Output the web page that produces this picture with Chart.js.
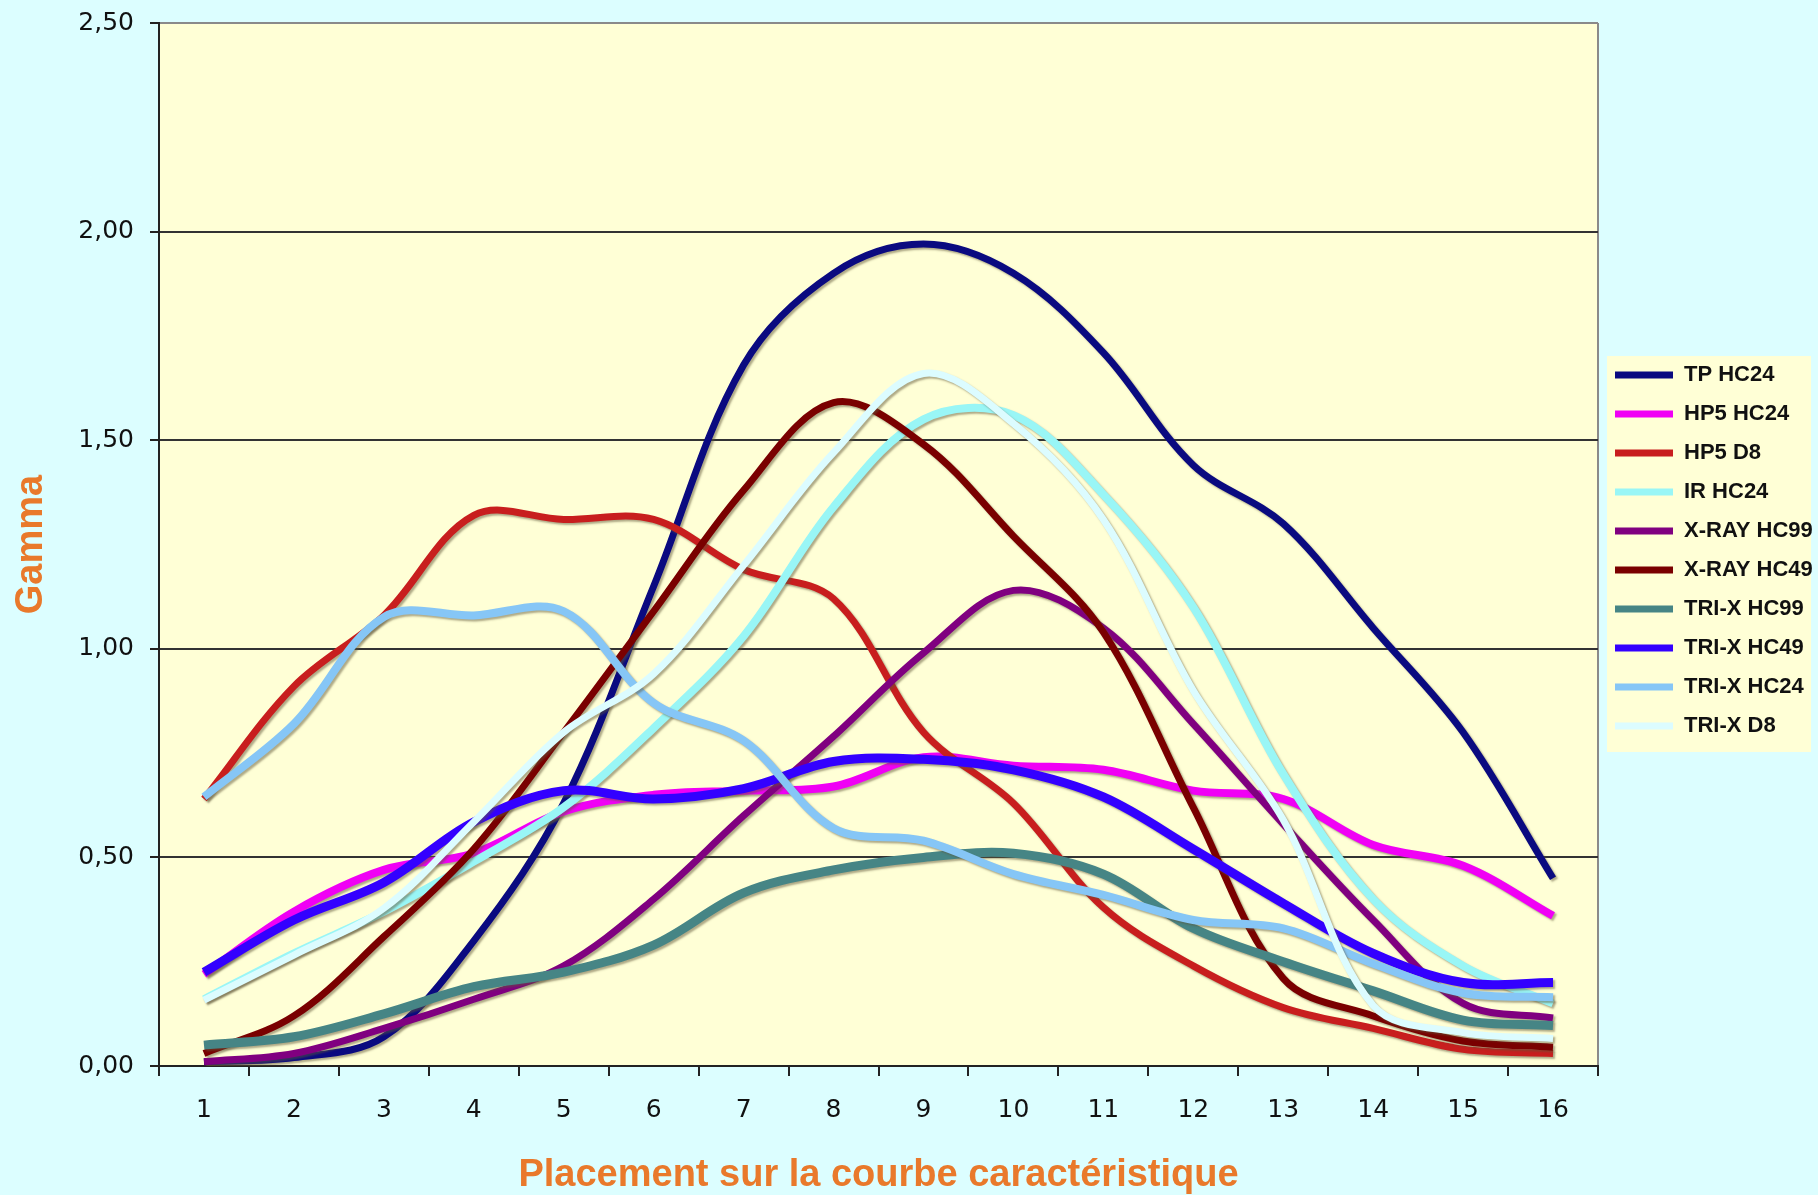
<!DOCTYPE html>
<html lang="fr">
<head>
	<meta charset="UTF-8">
	<title>Gamma - Placement sur la courbe caractéristique</title>
	<script src="https://cdn.jsdelivr.net/npm/chart.js"></script>
	<style>
	html, body { margin: 0; padding: 0; background: #dcfeff; }
	#wrap { width: 1818px; height: 1195px; }
	</style>
</head>
<body>
	<div id="wrap"><canvas id="gammaChart" width="1818" height="1195"></canvas></div>
	<script>
	// categories (position on the characteristic curve)
	const labels = ['1', '2', '3', '4', '5', '6', '7', '8', '9', '10', '11', '12', '13', '14', '15', '16'];
	// gamma values
	const tpHc24 = [0.01, 0.02, 0.07, 0.30, 0.63, 1.15, 1.68, 1.90, 1.97, 1.90, 1.71, 1.44, 1.30, 1.05, 0.80, 0.45];
	const hp5Hc24 = [0.22, 0.37, 0.47, 0.51, 0.61, 0.65, 0.66, 0.67, 0.74, 0.72, 0.71, 0.66, 0.64, 0.53, 0.48, 0.36];
	const hp5D8 = [0.64, 0.91, 1.08, 1.32, 1.31, 1.31, 1.19, 1.12, 0.80, 0.63, 0.38, 0.24, 0.14, 0.09, 0.04, 0.03];
	const irHc24 = [0.16, 0.27, 0.37, 0.49, 0.62, 0.81, 1.03, 1.34, 1.55, 1.56, 1.37, 1.10, 0.70, 0.40, 0.24, 0.15];
	const xrayHc99 = [0.01, 0.03, 0.09, 0.16, 0.24, 0.40, 0.60, 0.79, 0.99, 1.14, 1.05, 0.82, 0.58, 0.35, 0.15, 0.115];
	const xrayHc49 = [0.03, 0.12, 0.31, 0.52, 0.80, 1.09, 1.38, 1.59, 1.49, 1.27, 1.04, 0.62, 0.21, 0.12, 0.06, 0.045];
	const triXHc99 = [0.05, 0.07, 0.125, 0.19, 0.225, 0.29, 0.415, 0.47, 0.50, 0.51, 0.46, 0.33, 0.25, 0.18, 0.11, 0.097];
	const triXHc49 = [0.225, 0.35, 0.44, 0.585, 0.66, 0.64, 0.665, 0.73, 0.735, 0.71, 0.645, 0.52, 0.39, 0.27, 0.20, 0.20];
	const triXHc24 = [0.645, 0.82, 1.076, 1.08, 1.09, 0.87, 0.78, 0.57, 0.54, 0.46, 0.41, 0.35, 0.33, 0.245, 0.175, 0.165];
	const triXD8 = [0.158, 0.266, 0.378, 0.585, 0.80, 0.94, 1.20, 1.47, 1.66, 1.54, 1.31, 0.90, 0.59, 0.145, 0.08, 0.066];

	const seriesNames = ['TP HC24', 'HP5 HC24', 'HP5 D8', 'IR HC24', 'X-RAY HC99', 'X-RAY HC49', 'TRI-X HC99', 'TRI-X HC49', 'TRI-X HC24', 'TRI-X D8'];
	const seriesData = [tpHc24, hp5Hc24, hp5D8, irHc24, xrayHc99, xrayHc49, triXHc99, triXHc49, triXHc24, triXD8];
	const seriesColors = ['#0a0a80', '#f000f5', '#c81e1e', '#99f6f6', '#800080', '#7a0000', '#468585', '#3300ff', '#86c6f6', '#dcfcff'];
	const seriesWidths = [7, 8, 7, 8, 7, 7, 9, 9, 8, 7];

	const titleFont = "'Liberation Sans', Arial, sans-serif";
	const tickFont = "'DejaVu Sans', Verdana, sans-serif";
	const legendSize = 22;

	const datasets = seriesNames.map((name, i) => ({
		label: name,
		data: seriesData[i],
		borderColor: seriesColors[i],
		backgroundColor: seriesColors[i],
		borderWidth: seriesWidths[i],
		pointRadius: 0,
		tension: 0.35,
		fill: false,
		order: -i // later series on top, like the original
	}));

	// yellow plot area, grey right border and the legend box
	const plotBg = {
		id: 'plotBg',
		beforeDraw(chart) {
			const { ctx, chartArea: a } = chart;
			ctx.save();
			ctx.fillStyle = '#ffffd6';
			ctx.fillRect(a.left, a.top, a.right - a.left, a.bottom - a.top);
			ctx.strokeStyle = '#8a8a8a';
			ctx.lineWidth = 2;
			ctx.beginPath();
			ctx.moveTo(a.right, a.top);
			ctx.lineTo(a.right, a.bottom);
			ctx.stroke();
			const hb = chart.legend.legendHitBoxes;
			if(hb && hb.length) {
				const first = hb[0];
				const last = hb[hb.length - 1];
				const x0 = first.left - 8;
				const y0 = first.top - 8;
				ctx.fillRect(x0, y0, chart.width - 7 - x0, last.top + legendSize + 15 - y0);
			}
			ctx.restore();
		}
	};

	// soft drop shadow under each curve
	const lineShadow = {
		id: 'lineShadow',
		beforeDatasetDraw(chart) {
			const c = chart.ctx;
			c.save();
			c.shadowColor = 'rgba(95, 85, 55, 0.5)';
			c.shadowBlur = 2;
			c.shadowOffsetX = 2;
			c.shadowOffsetY = 2;
		},
		afterDatasetDraw(chart) {
			chart.ctx.restore();
		}
	};

	const ctx = document.getElementById('gammaChart').getContext('2d');
	new Chart(ctx, {
		type: 'line',
		data: { labels: labels, datasets: datasets },
		plugins: [plotBg, lineShadow],
		options: {
			responsive: false,
			animation: false,
			layout: { padding: { top: 23, left: 0, right: 0, bottom: 0 } },
			plugins: {
				tooltip: { enabled: false },
				legend: {
					position: 'right',
					fullSize: false,
					maxWidth: 220,
					// empty title only nudges the centred column down a little
					title: { display: true, text: '', color: '#111', font: { size: 10, lineHeight: 1.2 }, padding: 0 },
					labels: {
						boxWidth: 58,
						boxHeight: 7,
						padding: 17,
						color: '#111',
						font: { family: titleFont, size: legendSize, weight: 'bold' },
						generateLabels: chart => chart.data.datasets.map((ds, i) => ({
							text: ds.label,
							fillStyle: ds.borderColor,
							strokeStyle: ds.borderColor,
							fontColor: '#111',
							lineWidth: 0,
							hidden: false,
							datasetIndex: i
						}))
					}
				}
			},
			scales: {
				x: {
					offset: true,
					grid: { offset: true, drawOnChartArea: false, tickLength: 10, color: '#222', lineWidth: 2 },
					border: { color: '#222', width: 2 },
					ticks: { color: '#111', font: { family: tickFont, size: 25 }, padding: 19, maxRotation: 0, autoSkip: false },
					title: {
						display: true,
						text: 'Placement sur la courbe caractéristique',
						color: '#e9792b',
						font: { family: titleFont, size: 38, weight: 'bold', lineHeight: 1.0 },
						padding: { top: 0, bottom: 0 }
					},
					afterFit(scale) { scale.height = 129; }
				},
				y: {
					min: 0,
					max: 2.5,
					grid: {
						color: c => (c.tick && c.tick.value === 2.5) ? '#8a8a8a' : '#333',
						lineWidth: 2,
						tickLength: 9,
						tickColor: '#222'
					},
					border: { color: '#222', width: 2 },
					ticks: {
						stepSize: 0.5,
						color: '#111',
						padding: 16,
						font: { family: tickFont, size: 25, lineHeight: 0.5 },
						callback: v => v.toFixed(2).replace('.', ',')
					},
					title: {
						display: true,
						text: 'Gamma',
						color: '#e9792b',
						font: { family: titleFont, size: 38, weight: 'bold', lineHeight: 1.0 },
						padding: { top: 13, bottom: 0 }
					},
					afterFit(scale) { scale.width = 159; }
				}
			}
		}
	});
	</script>
</body>
</html>
